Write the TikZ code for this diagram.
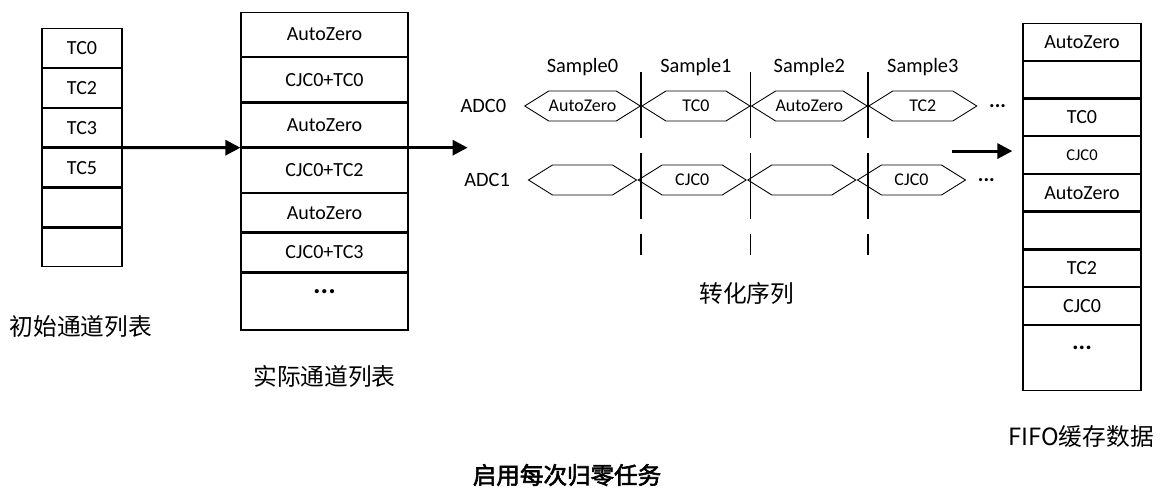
\documentclass[tikz,border=0pt]{standalone}
\usepackage{fontspec}
\setmainfont{Carlito}
\newfontfamily\cjk{Noto Sans CJK SC}
\newfontfamily\cjkbold[FakeBold=2.5]{Noto Sans CJK SC}
\usetikzlibrary{calc}
\usetikzlibrary{positioning}
\usetikzlibrary{shapes.symbols}
\usetikzlibrary{arrows.meta}
\tikzstyle{listcell} = [draw, rectangle, line width=0.7pt, inner sep=0pt, font=\fontsize{11.4}{13}\selectfont]
\tikzstyle{initcell} = [listcell, minimum width=1.6cm, minimum height=0.773cm]
\tikzstyle{realcell} = [listcell, minimum width=3.34cm, minimum height=0.88cm]
\tikzstyle{fifocell} = [listcell, minimum width=2.36cm, minimum height=0.73cm]
\tikzstyle{sigcell} = [draw, signal, signal to=east and west, signal pointer angle=64, minimum width=2.16cm, minimum height=0.6cm, inner sep=0pt, line width=0.5pt, font=\fontsize{10.2}{11}\selectfont]
\tikzstyle{flowarrow} = [line width=1.7pt, -{Triangle[length=0.3cm, width=0.3cm]}]
\tikzstyle{sampleline} = [line width=0.8pt, dash pattern=on 1.32cm off 0.3cm]
\tikzstyle{textlabel} = [font=\fontsize{11.6}{13}\selectfont]
\tikzstyle{cnlabel} = [font=\cjk\fontsize{13.5}{16}\selectfont]
\newcommand{\moredots}[1]{{\fontsize{#1}{#1}\selectfont\textbf{...}}}

\begin{document}
\begin{tikzpicture}
\useasboundingbox (0,0) rectangle (23.24,-9.84);

% initial channel list
\node[initcell, anchor=north] (init_tc0) at (1.64,-0.56) {TC0};
\node[initcell, below=0pt of init_tc0] (init_tc2) {TC2};
\node[initcell, below=0pt of init_tc2] (init_tc3) {TC3};
\node[initcell, below=0pt of init_tc3] (init_tc5) {TC5};
\node[initcell, below=0pt of init_tc5] (init_e1) {};
\node[initcell, below=0pt of init_e1] (init_e2) {};
\node[cnlabel] (init_label) at ($(init_e2.south)+(-0.02,-1.18)$) {初始通道列表};

% actual channel list
\node[realcell, anchor=north] (real_az0) at (6.49,-0.24) {AutoZero};
\node[realcell, below=0pt of real_az0] (real_tc0) {CJC0+TC0};
\node[realcell, below=0pt of real_tc0] (real_az1) {AutoZero};
\node[realcell, below=0pt of real_az1] (real_tc2) {CJC0+TC2};
\node[realcell, below=0pt of real_tc2, minimum height=0.77cm] (real_az2) {AutoZero};
\node[realcell, below=0pt of real_az2, minimum height=0.77cm] (real_tc3) {CJC0+TC3};
\node[realcell, below=0pt of real_tc3, minimum height=1.14cm, text depth=0.4cm] (real_more) {\moredots{16}};
\node[cnlabel] (real_label) at ($(real_more.south)+(0,-0.92)$) {实际通道列表};

\draw[flowarrow] (init_tc3.south east) -- (real_az1.south west);
\coordinate (conv_in) at ($(real_az1.south east)+(1.18,0)$);
\draw[flowarrow] (real_az1.south east) -- (conv_in);

% conversion sequence
\node[sigcell] (adc0_s0) at (11.65,-2.12) {AutoZero};
\node[sigcell, right=0pt of adc0_s0] (adc0_s1) {TC0};
\node[sigcell, right=0pt of adc0_s1] (adc0_s2) {AutoZero};
\node[sigcell, right=0pt of adc0_s2] (adc0_s3) {TC2};
\node[sigcell] (adc1_s0) at (11.65,-3.6) {};
\node[sigcell, right=0pt of adc1_s0] (adc1_s1) {CJC0};
\node[sigcell, right=0pt of adc1_s1] (adc1_s2) {};
\node[sigcell, right=0pt of adc1_s2] (adc1_s3) {CJC0};

\node[textlabel] (adc0_label) at ($(adc0_s0.west)+(-0.81,0)$) {ADC0};
\node[textlabel] (adc1_label) at ($(adc1_s0.west)+(-0.81,0)$) {ADC1};
\node[textlabel] (adc0_more) at ($(adc0_s3.east)+(0.4,0)$) {\moredots{12}};
\node[textlabel] (adc1_more) at ($(adc1_s3.east)+(0.4,0)$) {\moredots{12}};

\node[textlabel] (smp0) at ($(adc0_s0)+(0,0.78)$) {Sample0};
\node[textlabel] (smp1) at ($(adc0_s1)+(0,0.78)$) {Sample1};
\node[textlabel] (smp2) at ($(adc0_s2)+(0,0.78)$) {Sample2};
\node[textlabel] (smp3) at ($(adc0_s3)+(0,0.78)$) {Sample3};

\draw[sampleline] ($(adc0_s0.east)+(0,0.68)$) -- ($(adc0_s0.east)+(0,-2.98)$);
\draw[sampleline] ($(adc0_s1.east)+(0,0.68)$) -- ($(adc0_s1.east)+(0,-2.98)$);
\draw[sampleline] ($(adc0_s2.east)+(0,0.68)$) -- ($(adc0_s2.east)+(0,-2.98)$);

\node[cnlabel] (conv_label) at ($(adc1_s1.east)+(0,-2.26)$) {转化序列};

% FIFO buffer
\node[fifocell, anchor=north] (fifo_az0) at (21.64,-0.46) {AutoZero};
\node[fifocell, below=0pt of fifo_az0] (fifo_e0) {};
\node[fifocell, below=0pt of fifo_e0] (fifo_tc0) {TC0};
\node[fifocell, below=0pt of fifo_tc0, font=\fontsize{9.4}{11}\selectfont] (fifo_cjc0) {CJC0};
\node[fifocell, below=0pt of fifo_cjc0] (fifo_az1) {AutoZero};
\node[fifocell, below=0pt of fifo_az1] (fifo_e1) {};
\node[fifocell, below=0pt of fifo_e1] (fifo_tc2) {TC2};
\node[fifocell, below=0pt of fifo_tc2] (fifo_cjc1) {CJC0};
\node[fifocell, below=0pt of fifo_cjc1, minimum height=1.3cm, text depth=0.4cm] (fifo_more) {\moredots{14}};
\node[cnlabel] (fifo_label) at ($(fifo_more.south)+(-0.02,-0.9)$) {FIFO缓存数据};

\coordinate (fifo_tip) at ($(fifo_cjc0.west)+(-0.2,0.08)$);
\coordinate (fifo_in) at ($(fifo_tip)+(-1.2,0)$);
\draw[flowarrow] (fifo_in) -- (fifo_tip);

\node[font=\cjkbold\fontsize{13.4}{16}\selectfont] (title) at (11.34,-9.5) {启用每次归零任务};
\end{tikzpicture}
\end{document}
